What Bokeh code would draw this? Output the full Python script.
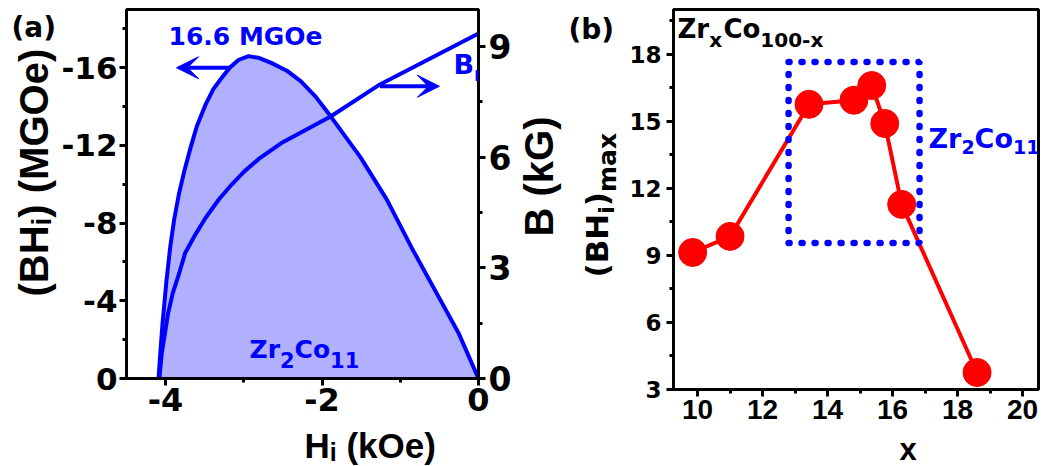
from math import pi

from bokeh.plotting import figure
from bokeh.layouts import row, column
from bokeh.models import (Range1d, LinearAxis, FixedTicker, PrintfTickFormatter,
                          Label, Arrow, VeeHead, ColumnDataSource)
from bokeh.embed import file_html
from bokeh.resources import INLINE

# ---------------- data ----------------
# (a) energy product curve of Zr2Co11 versus internal field
H_BH = [-4.09, -4.07, -4.04, -3.99, -3.94, -3.89, -3.83, -3.76, -3.68, -3.60,
        -3.49, -3.39, -3.28, -3.18, -3.07, -2.94, -2.80, -2.65, -2.45, -2.27,
        -2.08, -1.89, -1.51, -1.17, -0.85, -0.55, -0.25, 0.0]
BH = [0.0, -1.2, -2.8, -5.0, -6.8, -8.2, -9.5, -10.7, -11.9, -13.0,
      -14.1, -14.9, -15.5, -16.0, -16.4, -16.6, -16.5, -16.25, -15.85, -15.3,
      -14.5, -13.5, -11.4, -9.2, -6.7, -4.5, -2.3, 0.0]

# (a) induction curve B(H_i), right axis
H_B = [-4.08, -4.05, -4.01, -3.97, -3.91, -3.83, -3.75, -3.62, -3.49, -3.32,
       -3.15, -2.99, -2.81, -2.52, -1.89, -1.26, 0.0]
B = [0.0, 0.67, 1.2, 1.75, 2.3, 2.83, 3.4, 3.9, 4.35, 4.85,
     5.27, 5.62, 5.95, 6.38, 7.1, 7.97, 9.35]

BH_MAX_LABEL = "16.6 MGOe"

# (b) maximum energy product of ZrxCo100-x
X_ZR = [9.85, 11.0, 13.43, 14.81, 15.36, 15.76, 16.28, 18.6]
BH_MAX = [9.13, 9.85, 15.76, 15.94, 16.6, 14.9, 11.28, 3.76]

# composition window of the Zr2Co11 phase
PHASE_X = (12.8, 16.83)
PHASE_Y = (9.55, 17.65)

# tick values
A_X_TICKS = [-4, -2, 0]
A_X_MINOR = [-3, -1]
A_Y_TICKS = [0, -4, -8, -12, -16]
A_Y_MINOR = [-2, -6, -10, -14, -18]
A_B_TICKS = [0, 3, 6, 9]
A_B_MINOR = [1.5, 4.5, 7.5]
B_X_TICKS = [10, 12, 14, 16, 18, 20]
B_X_MINOR = [11, 13, 15, 17, 19]
B_Y_TICKS = [3, 6, 9, 12, 15, 18]
B_Y_MINOR = [4.5, 7.5, 10.5, 13.5, 16.5, 19.5]

# ---------------- styling ----------------
BLUE = "#0000ff"
FILL = "#b0b0ff"
RED = "#ff0000"
DJ = "DejaVu Sans"
LB = "Liberation Sans"

# bold advance widths (per 1000 em) used to lay out sub-scripted labels
WIDTHS = {
    DJ: {" ": 348, "(": 457, ")": 457, "-": 415, ".": 381, "B": 762, "C": 734,
         "G": 822, "H": 838, "M": 995, "O": 850, "Z": 725, "a": 675, "b": 716,
         "e": 678, "i": 343, "k": 664, "m": 1042, "o": 687, "r": 493, "x": 712,
         **{d: 696 for d in "0123456789"}},
    LB: {" ": 278, "(": 333, ")": 333, "-": 333, "B": 722, "G": 778, "H": 722,
         "M": 833, "O": 778, "e": 556, "i": 278, "k": 556, "m": 889, "a": 556,
         "x": 556, **{d: 556 for d in "0123456789"}},
}
# distance from the middle of the font box down to the baseline, in em
MID_TO_BASE = {DJ: 0.346, LB: 0.347}


def text_width(s, size, font):
    return sum(WIDTHS[font][c] for c in s) * size / 1000.0


def rich_text(p, pieces, px, py, frame, font, color, vertical=False):
    """Place text made of (string, size, drop) pieces with its baseline
    starting at page pixel (px, py); frame = (left, bottom, x0, y0) gives the
    page pixel of the frame's lower-left corner and its data value."""
    fl, fb, x0, y0 = frame
    adv = 0.0
    for s, size, drop in pieces:
        body = s.lstrip(" ")
        adv += text_width(s[:len(s) - len(body)], size, font)  # leading blanks
        shift = drop - MID_TO_BASE[font] * size   # baseline -> box middle
        if vertical:
            xo, yo, ang = px - fl + shift, fb - py + adv, pi / 2
        else:
            xo, yo, ang = px - fl + adv, fb - py - shift, 0
        p.add_layout(Label(x=x0, y=y0, x_offset=xo, y_offset=yo, text=body,
                           angle=ang, text_font=font, text_font_size=f"{size}px",
                           text_font_style="bold", text_color=color,
                           text_baseline="middle", text_align="left"))
        adv += text_width(body, size, font)


def style_axis(ax, ticks, minor, font, size, standoff=4):
    ax.ticker = FixedTicker(ticks=ticks, minor_ticks=minor)
    ax.formatter = PrintfTickFormatter(format="%d")
    ax.axis_line_width = 3
    ax.axis_line_color = "black"
    ax.major_tick_line_width = 3
    ax.minor_tick_line_width = 3
    ax.major_tick_in = 0
    ax.minor_tick_in = 0
    ax.major_tick_out = 7
    ax.minor_tick_out = 4
    ax.major_label_text_font = font
    ax.major_label_text_font_style = "bold"
    ax.major_label_text_font_size = f"{size}px"
    ax.major_label_text_color = "black"
    ax.major_label_standoff = standoff


def base_style(p):
    p.xgrid.visible = False
    p.ygrid.visible = False
    p.outline_line_color = "black"
    p.outline_line_width = 3
    p.background_fill_color = "white"
    p.border_fill_color = "white"


def text_strip(w, h):
    """Axis-free canvas used for the titles that sit beside the frames."""
    f = figure(width=w, height=h, x_range=Range1d(0, w), y_range=Range1d(0, h),
               output_backend="svg", toolbar_location=None, title=None,
               min_border=0, x_axis_type=None, y_axis_type=None)
    f.outline_line_color = None
    f.background_fill_color = "white"
    f.border_fill_color = "white"
    return f


H_PAGE = 466

# page columns: [title strip | panel a | B axis title | title strip | panel b]
LA_W = 58
PA_W, PA_H = 456, 425
BK_W = 48
LB_W = 64
PB_W, PB_H = 421, 431

PA_X = LA_W
BK_X = PA_X + PA_W
LB_X = BK_X + BK_W
PB_X = LB_X + LB_W

# frame edges on the page
A_FL, A_FR, A_FT, A_FB = 123, 481, 9, 378
B_FL, B_FR, B_FT, B_FB = 672, 1038, 9, 389

# ---------------- panel (a) ----------------
A_XR = Range1d(-4.5, 0)
pa = figure(width=PA_W, height=PA_H, x_range=A_XR, y_range=Range1d(0, -19),
            output_backend="svg", toolbar_location=None, title=None,
            min_border_left=A_FL - PA_X, min_border_right=PA_X + PA_W - A_FR,
            min_border_top=A_FT, min_border_bottom=PA_H - A_FB)
pa.extra_y_ranges = {"B": Range1d(0, 10)}
pa.add_layout(LinearAxis(y_range_name="B"), "right")
base_style(pa)
style_axis(pa.xaxis[0], A_X_TICKS, A_X_MINOR, DJ, 32, 2)
style_axis(pa.yaxis[0], A_Y_TICKS, A_Y_MINOR, DJ, 31, 2)
style_axis(pa.yaxis[1], A_B_TICKS, A_B_MINOR, DJ, 33, 3)

src_bh = ColumnDataSource(dict(h=H_BH, bh=BH))
src_b = ColumnDataSource(dict(h=H_B, b=B))
pa.varea(x="h", y1=0, y2="bh", source=src_bh, fill_color=FILL)
pa.line("h", "bh", source=src_bh, line_color=BLUE, line_width=4, line_join="round")
pa.line("h", "b", source=src_b, y_range_name="B", line_color=BLUE, line_width=4,
        line_join="round")

pa.add_layout(Arrow(x_start=-3.17, y_start=-16, x_end=-3.86, y_end=-16,
                    line_color=BLUE, line_width=4,
                    end=VeeHead(size=22, fill_color=BLUE, line_color=BLUE, line_width=1)))
pa.add_layout(Arrow(x_start=-1.26, y_start=7.92, x_end=-0.5, y_end=7.92,
                    y_range_name="B", line_color=BLUE, line_width=4,
                    end=VeeHead(size=22, fill_color=BLUE, line_color=BLUE, line_width=1)))

fa = (A_FL, A_FB, A_XR.start, 0)
rich_text(pa, [(BH_MAX_LABEL, 25, 0)], 165, 45, fa, DJ, BLUE)
rich_text(pa, [("B", 27, 0), ("r", 19, 7)], 450, 73, fa, DJ, BLUE)
rich_text(pa, [("Zr", 25, 0), ("2", 21, 9), ("Co", 25, 0), ("11", 21, 9)],
          246, 358, fa, DJ, BLUE)

# titles around panel (a)
la = text_strip(LA_W, H_PAGE)
rich_text(la, [("(a)", 28, 0)], 11, 37, (0, H_PAGE, 0, 0), DJ, "black")
rich_text(la, [("(BH", 40, 0), ("i", 28, 4), (") (MGOe)", 40, 0)], 47, 296,
          (0, H_PAGE, 0, 0), LB, "black", vertical=True)

ha = text_strip(PA_W, H_PAGE - PA_H)
rich_text(ha, [("H", 35, 0), ("i", 25, 3.5), (" (kOe)", 35, 0)], 236, 457,
          (PA_X, H_PAGE, 0, 0), LB, "black")

bk = text_strip(BK_W, H_PAGE)
rich_text(bk, [("B (kG)", 40, 0)], 552, 236, (BK_X, H_PAGE, 0, 0), LB, "black",
          vertical=True)

# ---------------- panel (b) ----------------
B_XR = Range1d(9.26, 20.49)
B_YR = Range1d(3, 20)
pb = figure(width=PB_W, height=PB_H, x_range=B_XR, y_range=B_YR,
            output_backend="svg", toolbar_location=None, title=None,
            min_border_left=B_FL - PB_X, min_border_right=PB_X + PB_W - B_FR,
            min_border_top=B_FT, min_border_bottom=PB_H - B_FB)
base_style(pb)
style_axis(pb.xaxis[0], B_X_TICKS, B_X_MINOR, LB, 28, 3)
style_axis(pb.yaxis[0], B_Y_TICKS, B_Y_MINOR, DJ, 23, 5)

src_x = ColumnDataSource(dict(x=X_ZR, y=BH_MAX))
pb.line("x", "y", source=src_x, line_color=RED, line_width=4)
pb.scatter("x", "y", source=src_x, size=28, fill_color=RED, line_color=RED)
pb.quad(left=[PHASE_X[0]], right=[PHASE_X[1]], bottom=[PHASE_Y[0]], top=[PHASE_Y[1]],
        fill_color=None, line_color=BLUE, line_width=6.5, line_dash="1 12",
        line_cap="round")

fb_ = (B_FL, B_FB, B_XR.start, B_YR.start)
rich_text(pb, [("Zr", 26, 0), ("x", 20, 9), ("Co", 26, 0), ("100-x", 20, 9)],
          676, 37, fb_, DJ, "black")
rich_text(pb, [("Zr", 27, 0), ("2", 19, 6), ("Co", 27, 0), ("11", 19, 6)],
          927, 147, fb_, DJ, BLUE)

lb = text_strip(LB_W, H_PAGE)
rich_text(lb, [("(b)", 28, 0)], 568, 39, (LB_X, H_PAGE, 0, 0), DJ, "black")
rich_text(lb, [("(BH", 31, 0), ("i", 22, 7), (")", 31, 0), ("max", 25, 9)],
          607, 277, (LB_X, H_PAGE, 0, 0), DJ, "black", vertical=True)

xb = text_strip(PB_W, H_PAGE - PB_H)
rich_text(xb, [("x", 31, 0)], 852, 459.3, (PB_X, H_PAGE, 0, 0), LB, "black")

layout = row(la, column(pa, ha), bk, lb, column(pb, xb))
open("out.html", "w").write(file_html(layout, INLINE))
